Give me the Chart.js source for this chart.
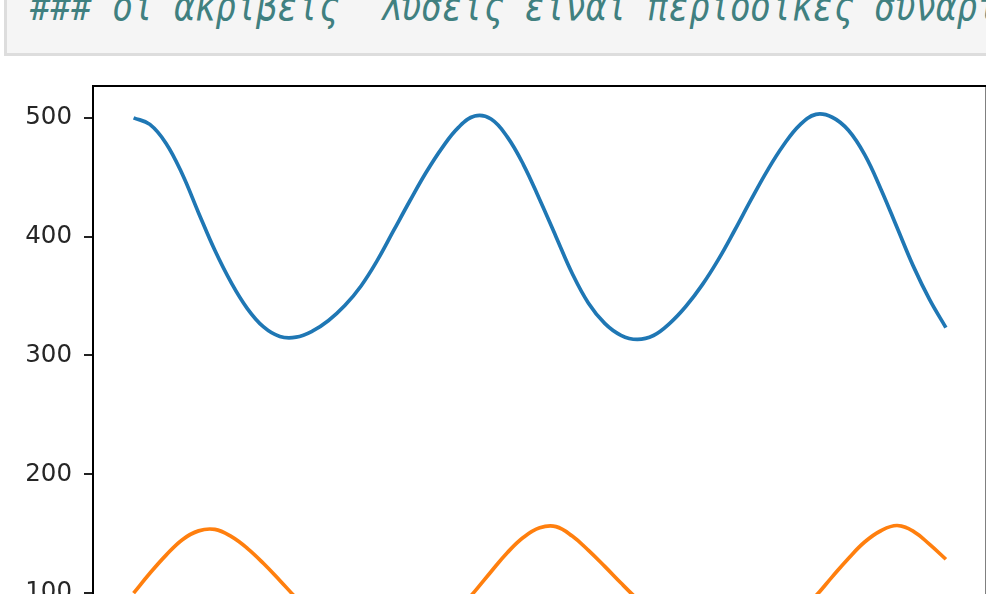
<!DOCTYPE html>
<html>
<head>
<meta charset="utf-8">
<script src="https://cdn.jsdelivr.net/npm/chart.js@4.4.1/dist/chart.umd.min.js"></script>
<style>
  html, body { margin: 0; padding: 0; background: #ffffff; overflow: hidden; }
  #page { position: relative; width: 986px; height: 594px; overflow: hidden; background: #ffffff; }
  #cell {
    position: absolute; left: 4px; top: -20px; width: 1000px; height: 76px;
    box-sizing: border-box; background: #f5f5f5;
    border-left: 3px solid #dddddd; border-bottom: 3px solid #dddddd;
  }
  #code {
    position: absolute; left: 30px; top: -14px; white-space: pre;
    font-family: "DejaVu Sans Mono", monospace; font-style: italic;
    font-size: 40px; line-height: 40px; color: #408080;
    transform: scaleX(0.855); transform-origin: 0 0;
  }
  #plot { position: absolute; left: 0; top: 0; width: 987px; height: 722px; }
</style>
</head>
<body>
<div id="page">
  <div id="plot"><canvas id="chart" width="987" height="722"></canvas></div>
  <div id="cell"></div>
  <div id="code">### οι ακριβείς  λύσεις είναι περιοδικές συναρτήσεις</div>
</div>
<script>
// time steps of the integration
const time = [0, 1, 2, 3, 4, 5, 6, 7, 8, 9, 10, 11, 12, 13, 14, 15, 16, 17, 18, 19, 20,
  21, 22, 23, 24, 25, 26, 27, 28, 29, 30, 31, 32, 33, 34, 35, 36, 37, 38, 39, 40,
  41, 42, 43, 44, 45, 46, 47, 48, 49, 50];

// prey population
const prey = [500, 494.5, 478.5, 452.5, 420, 388.5, 361.5, 339.5, 324, 316, 315.4,
  320.5, 329.5, 342, 358.5, 380, 405, 430, 454, 475, 492,
  501.5, 499, 484, 460.5, 431, 400, 369, 344, 327, 317,
  313.5, 316.8, 327, 341.4, 359.4, 380.9, 405.4, 430.9, 455.4, 476.9,
  493.9, 502.9, 500.5, 489.5, 469, 440, 407.5, 375, 347, 323.5];

// predator population
const predator = [100, 116.7, 132, 145, 152.4, 153.6, 147.7, 137.7, 124.9, 110.7, 96,
  83, 71, 60.5, 52.5, 48.5, 48, 52, 60, 71.5, 86,
  101.5, 118, 134, 147, 155, 156, 148, 136, 122.5, 108.5,
  95, 82.5, 70.5, 60, 52, 48, 48, 52, 60, 71,
  84, 97.7, 113.7, 129.2, 143, 152.5, 156.9, 152, 141, 128.5];

const yTicks = [100, 200, 300, 400, 500];
const xTicks = [0, 10, 20, 30, 40, 50];

const toPoints = (ys) => time.map((t, i) => ({ x: t, y: ys[i] }));

// closed black frame around the axes, like a full set of spines
const frame = {
  id: 'frame',
  afterDatasetsDraw(chart) {
    const { ctx, chartArea: a } = chart;
    ctx.save();
    ctx.strokeStyle = '#000000';
    ctx.lineWidth = 2;
    ctx.strokeRect(a.left, a.top, a.right - a.left, a.bottom - a.top);
    ctx.restore();
  }
};

new Chart(document.getElementById('chart'), {
  type: 'line',
  data: {
    datasets: [
      { label: 'prey', data: toPoints(prey), borderColor: '#1f77b4', borderWidth: 3.7,
        pointRadius: 0, tension: 0.4, fill: false },
      { label: 'predator', data: toPoints(predator), borderColor: '#ff7f0e', borderWidth: 3.7,
        pointRadius: 0, tension: 0.4, fill: false }
    ]
  },
  options: {
    responsive: false,
    animation: false,
    devicePixelRatio: 1,
    layout: { padding: { top: 86, right: 0.5, left: 0, bottom: 0 } },
    plugins: { legend: { display: false }, tooltip: { enabled: false } },
    scales: {
      x: {
        type: 'linear', min: -2.5, max: 52.5,
        afterBuildTicks: (s) => { s.ticks = xTicks.map(v => ({ value: v })); },
        afterFit: (s) => { s.height = 40; },
        border: { display: false },
        grid: { drawOnChartArea: false, drawTicks: true, tickLength: 9, color: '#222222', lineWidth: 2 },
        ticks: { font: { family: 'DejaVu Sans', size: 24.5 }, color: '#262626' }
      },
      y: {
        type: 'linear', min: 25.2, max: 526.8,
        afterBuildTicks: (s) => { s.ticks = yTicks.map(v => ({ value: v })); },
        afterFit: (s) => { s.width = 93; },
        border: { display: false },
        grid: { drawOnChartArea: false, drawTicks: true, tickLength: 9, color: '#222222', lineWidth: 2 },
        ticks: { font: { family: 'DejaVu Sans', size: 24.5 }, color: '#262626', padding: 12 }
      }
    }
  },
  plugins: [frame]
});
</script>
</body>
</html>
